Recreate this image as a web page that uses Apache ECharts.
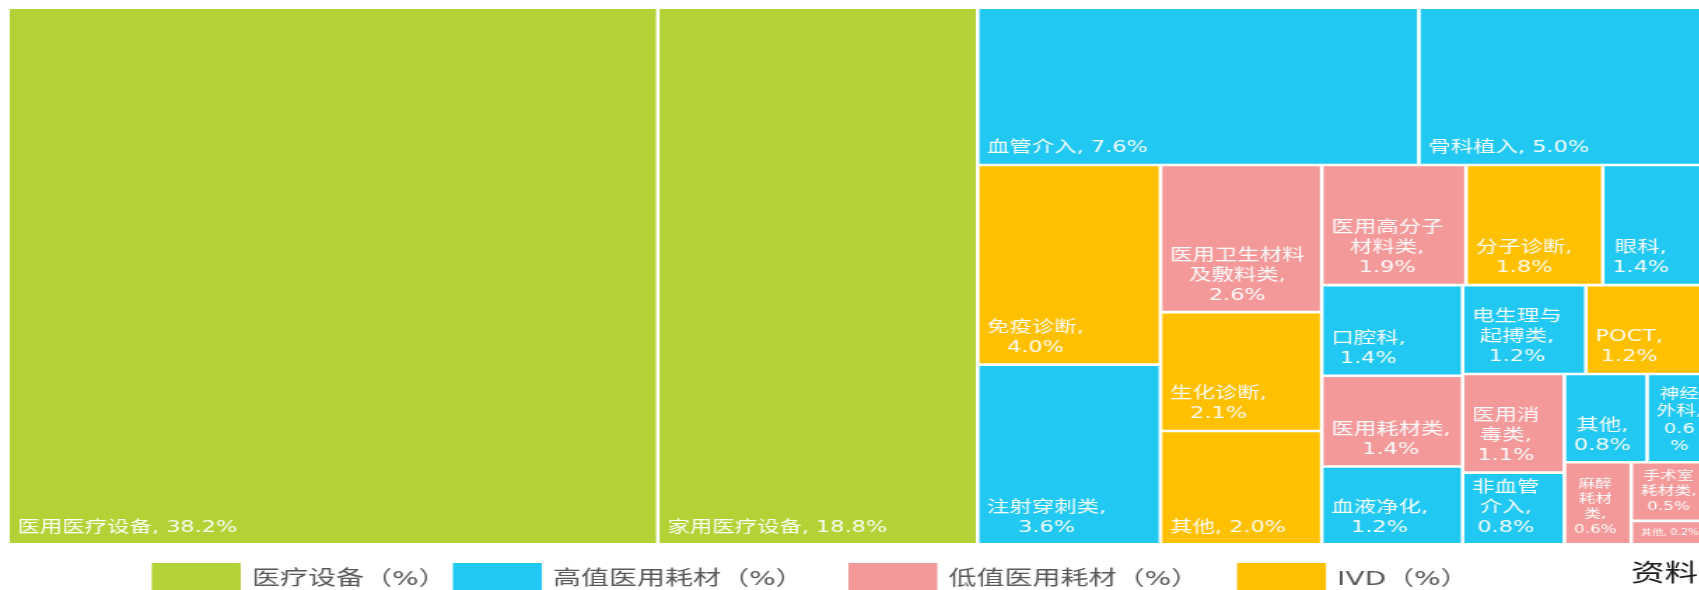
<!DOCTYPE html>
<html>
<head>
<meta charset="utf-8">
<script src="https://cdn.jsdelivr.net/npm/echarts@6/dist/echarts.min.js"></script>
<style>
  html, body { margin: 0; padding: 0; background: #ffffff; overflow: hidden; width: 1699px; height: 590px; }
  #chart { width: 1223px; height: 590px; transform: scaleX(1.4); transform-origin: 0 0; }
</style>
</head>
<body>
<div id="chart"></div>
<script>
// ---- data ----
const categories = ['医疗设备（%）', '高值医用耗材（%）', '低值医用耗材（%）', 'IVD（%）'];
const categoryColors = ['#B2D235', '#20C8F2', '#F4999A', '#FFC000'];

const segmentNames = ['医用医疗设备', '家用医疗设备', '血管介入', '骨科植入', '免疫诊断', '注射穿刺类',
  '医用卫生材料及敷料类', '生化诊断', '其他', '医用高分子材料类', '分子诊断', '眼科', '口腔科', '医用耗材类',
  '血液净化', '电生理与起搏类', 'POCT', '医用消毒类', '非血管介入', '其他', '神经外科', '麻醉耗材类',
  '手术室耗材类', '其他'];
const segmentValues = [38.2, 18.8, 7.6, 5.0, 4.0, 3.6, 2.6, 2.1, 2.0, 1.9, 1.8, 1.4, 1.4, 1.4,
  1.2, 1.2, 1.2, 1.1, 0.8, 0.8, 0.6, 0.6, 0.5, 0.2];
const segmentCategory = [0, 0, 1, 1, 3, 1, 2, 3, 3, 2, 3, 1, 1, 2, 1, 1, 3, 2, 1, 1, 1, 2, 2, 2];

// how many consecutive tiles share one strip in the reference's treemap layout
const stripSizes = [1, 1, 2, 2, 3, 3, 3, 2, 2, 2, 1, 1, 1];

// ---- presentation ----
const FONT = "'DejaVu Sans', 'Noto Sans CJK SC', sans-serif";
const legendLefts = [108.4, 323.5, 606, 883.6];
const PAD_L = 5.5, PAD_B = 5.5;

function labelText(name, value) { return name + ', ' + value.toFixed(1) + '%'; }

// ---- label fitting (Excel-like wrapping: CJK chars break anywhere, a comma hangs at line end) ----
const measureCtx = document.createElement('canvas').getContext('2d');
function textWidth(str, fs) { measureCtx.font = fs + 'px ' + FONT; return measureCtx.measureText(str).width; }
function fitWidth(line, fs) { return textWidth(line.replace(/,$/, ''), fs); }
function isCJK(ch) { return /[\u3000-\u9fff\uff00-\uffef]/.test(ch); }
function splitUnits(str) {
  const units = [];
  let pendingSpace = false, word = '';
  function flushWord() { if (word) { units.push({ text: word, space: pendingSpace }); pendingSpace = false; word = ''; } }
  for (const ch of str) {
    if (ch === ' ') { flushWord(); pendingSpace = true; }
    else if (ch === ',') { flushWord(); if (units.length) units[units.length - 1].text += ch; else units.push({ text: ch, space: pendingSpace }); pendingSpace = false; }
    else if (isCJK(ch)) { flushWord(); units.push({ text: ch, space: pendingSpace }); pendingSpace = false; }
    else word += ch;
  }
  flushWord();
  return units;
}
function wrap(str, fs, avail) {
  const units = splitUnits(str);
  const lines = [];
  let line = '';
  units.forEach(function (u) {
    const cand = line ? line + (u.space ? ' ' : '') + u.text : u.text;
    if (fitWidth(cand, fs) <= avail) { line = cand; return; }
    if (line) { lines.push(line); line = ''; }
    if (fitWidth(u.text, fs) <= avail) { line = u.text; return; }
    for (const ch of u.text) {
      const c2 = line + ch;
      if (line && fitWidth(c2, fs) > avail) { lines.push(line); line = ch; } else { line = c2; }
    }
  });
  if (line) lines.push(line);
  return lines;
}
function fitLabel(str, w, h) {
  let best = null;
  for (let fs = 16; fs >= 5; fs--) {
    const padR = fs * 0.56;
    const lh = fs * 1.25;
    const lines = wrap(str, fs, w - PAD_L - padR);
    best = { fs: fs, lh: lh, lines: lines };
    if (lines.length * lh <= h - PAD_B - 2) break;
  }
  best.blockW = Math.max.apply(null, best.lines.map(function (l) { return textWidth(l, best.fs); }));
  return best;
}

function buildTree(fits) {
  const strips = [];
  let idx = 0;
  stripSizes.forEach(function (size, s) {
    const children = [];
    for (let j = 0; j < size; j++, idx++) {
      const v = segmentValues[idx];
      const item = {
        name: segmentNames[idx],
        value: v,
        itemStyle: { color: categoryColors[segmentCategory[idx]] }
      };
      const f = fits && fits[idx];
      if (f) {
        item.label = {
          formatter: f.lines.join('\n'),
          fontSize: f.fs,
          lineHeight: f.lh,
          align: 'center',
          overflow: 'none',
          offset: [PAD_L + f.blockW / 2, 0],
          padding: [0, 0, PAD_B, 0]
        };
      }
      children.push(item);
    }
    strips.push({
      name: 'strip' + s,
      value: children.reduce(function (a, c) { return a + c.value; }, 0),
      children: children
    });
  });
  return strips;
}

function buildOption(fits) {
  const series = [{
    type: 'treemap',
    name: 'segments',
    left: 7, top: 9, width: 1212.5, height: 534,
    roam: false,
    nodeClick: false,
    breadcrumb: { show: false },
    sort: false,
    squareRatio: 1e-6,
    visibleMin: 0,
    animation: false,
    label: {
      show: true,
      position: 'insideBottomLeft',
      distance: 0,
      padding: [0, 9, PAD_B, PAD_L],
      color: 'rgba(255,255,255,0.96)',
      fontFamily: FONT,
      fontSize: 16,
      lineHeight: 20,
      overflow: 'break',
      formatter: function (p) { return labelText(p.name, p.value); }
    },
    upperLabel: { show: false },
    itemStyle: { borderWidth: 0, gapWidth: 0, borderColor: '#ffffff' },
    emphasis: { disabled: true },
    levels: [
      { itemStyle: { borderWidth: 0, gapWidth: 2.6, borderColor: '#ffffff' } },
      { itemStyle: { borderWidth: 0, gapWidth: 2.6, borderColor: '#ffffff' } },
      { itemStyle: { borderWidth: 0 } }
    ],
    data: buildTree(fits)
  }];

  categories.forEach(function (c, i) {
    series.push({ type: 'bar', name: c, data: [], itemStyle: { color: categoryColors[i] } });
  });

  return {
    animation: false,
    backgroundColor: '#ffffff',
    title: {
      text: '资料来源：',
      left: 1165, top: 563, padding: 0,
      textStyle: { fontSize: 24, fontWeight: 'normal', color: '#1a1a1a', fontFamily: FONT }
    },
    grid: { show: false, left: 0, top: 0, width: 10, height: 10 },
    xAxis: { show: false, type: 'category', data: [] },
    yAxis: { show: false, type: 'value' },
    legend: categories.map(function (c, i) {
      return {
        data: [c],
        left: legendLefts[i],
        top: 563,
        padding: 0,
        icon: 'rect',
        itemWidth: 63.5,
        itemHeight: 34,
        selectedMode: false,
        textStyle: { fontSize: 20, color: '#595959', fontFamily: FONT, padding: [0, 0, 0, 3] }
      };
    }),
    series: series
  };
}

const chart = echarts.init(document.getElementById('chart'), null, { renderer: 'canvas' });
chart.setOption(buildOption(null));

// second pass: fit each tile's label to the tile size the treemap computed
try {
  const tree = chart.getModel().getSeriesByIndex(0).getData().tree;
  const leaves = [];
  tree.root.eachNode(function (node) {
    if (!node.children || node.children.length === 0) leaves.push(node);
  });
  if (leaves.length === segmentValues.length) {
    const fits = leaves.map(function (node, i) {
      const lay = node.getLayout();
      return fitLabel(labelText(segmentNames[i], segmentValues[i]), lay.width, lay.height);
    });
    chart.setOption(buildOption(fits), true);
  }
} catch (e) { /* keep first-pass labels */ }
</script>
</body>
</html>
